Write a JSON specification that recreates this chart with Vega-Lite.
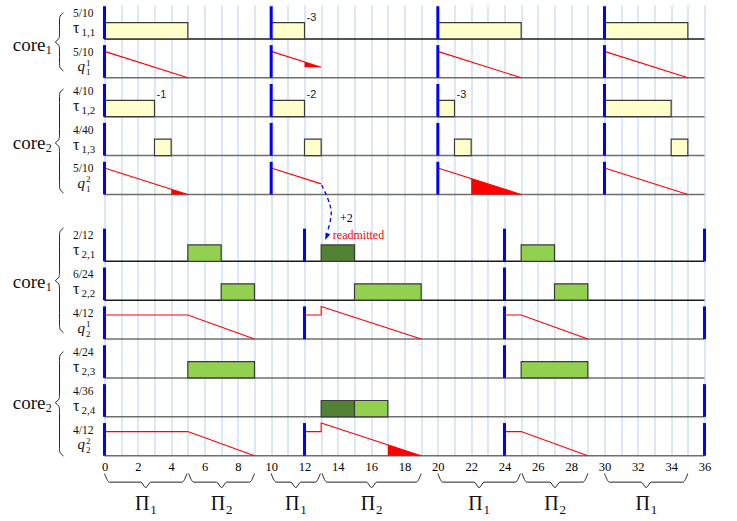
{
  "$schema": "https://vega.github.io/schema/vega-lite/v6.json",
  "width": 600,
  "height": 451,
  "autosize": {"type": "none"},
  "padding": {"left": 104.5, "top": 4.7, "right": 32.5, "bottom": 65.3},
  "background": "white",
  "config": {"view": {"stroke": null}, "font": "Liberation Serif"},
  "datasets": {
    "rows": [
      {"row": "t11", "base": 10.72, "frac": "5/10", "kind": "tau", "sub": "1,1", "sup": ""},
      {"row": "q11", "base": 9.72, "frac": "5/10", "kind": "q", "sub": "1", "sup": "1"},
      {"row": "t12", "base": 8.72, "frac": "4/10", "kind": "tau", "sub": "1,2", "sup": ""},
      {"row": "t13", "base": 7.72, "frac": "4/40", "kind": "tau", "sub": "1,3", "sup": ""},
      {"row": "q12", "base": 6.72, "frac": "5/10", "kind": "q", "sub": "1", "sup": "2"},
      {"row": "t21", "base": 5, "frac": "2/12", "kind": "tau", "sub": "2,1", "sup": ""},
      {"row": "t22", "base": 4, "frac": "6/24", "kind": "tau", "sub": "2,2", "sup": ""},
      {"row": "q21", "base": 3, "frac": "4/12", "kind": "q", "sub": "2", "sup": "1"},
      {"row": "t23", "base": 2, "frac": "4/24", "kind": "tau", "sub": "2,3", "sup": ""},
      {"row": "t24", "base": 1, "frac": "4/36", "kind": "tau", "sub": "2,4", "sup": ""},
      {"row": "q22", "base": 0, "frac": "4/12", "kind": "q", "sub": "2", "sup": "2"}
    ],
    "bars": [
      {"row": "t11", "t": 0, "t2": 5, "kind": "level1"},
      {"row": "t11", "t": 10, "t2": 12, "kind": "level1"},
      {"row": "t11", "t": 20, "t2": 25, "kind": "level1"},
      {"row": "t11", "t": 30, "t2": 35, "kind": "level1"},
      {"row": "t12", "t": 0, "t2": 3, "kind": "level1"},
      {"row": "t12", "t": 10, "t2": 12, "kind": "level1"},
      {"row": "t12", "t": 20, "t2": 21, "kind": "level1"},
      {"row": "t12", "t": 30, "t2": 34, "kind": "level1"},
      {"row": "t13", "t": 3, "t2": 4, "kind": "level1"},
      {"row": "t13", "t": 12, "t2": 13, "kind": "level1"},
      {"row": "t13", "t": 21, "t2": 22, "kind": "level1"},
      {"row": "t13", "t": 34, "t2": 35, "kind": "level1"},
      {"row": "t21", "t": 5, "t2": 7, "kind": "level2"},
      {"row": "t21", "t": 13, "t2": 15, "kind": "readmitted"},
      {"row": "t21", "t": 25, "t2": 27, "kind": "level2"},
      {"row": "t22", "t": 7, "t2": 9, "kind": "level2"},
      {"row": "t22", "t": 15, "t2": 19, "kind": "level2"},
      {"row": "t22", "t": 27, "t2": 29, "kind": "level2"},
      {"row": "t23", "t": 5, "t2": 9, "kind": "level2"},
      {"row": "t23", "t": 25, "t2": 29, "kind": "level2"},
      {"row": "t24", "t": 13, "t2": 15, "kind": "readmitted"},
      {"row": "t24", "t": 15, "t2": 17, "kind": "level2"}
    ],
    "barnotes": [
      {"row": "t11", "t": 12, "text": "-3"},
      {"row": "t12", "t": 3, "text": "-1"},
      {"row": "t12", "t": 12, "text": "-2"},
      {"row": "t12", "t": 21, "text": "-3"}
    ],
    "releases": [
      {"row": "t11", "t": 0}, {"row": "t11", "t": 10}, {"row": "t11", "t": 20}, {"row": "t11", "t": 30},
      {"row": "q11", "t": 0}, {"row": "q11", "t": 10}, {"row": "q11", "t": 20}, {"row": "q11", "t": 30},
      {"row": "t12", "t": 0}, {"row": "t12", "t": 10}, {"row": "t12", "t": 20}, {"row": "t12", "t": 30},
      {"row": "t13", "t": 0}, {"row": "t13", "t": 10}, {"row": "t13", "t": 20}, {"row": "t13", "t": 30},
      {"row": "q12", "t": 0}, {"row": "q12", "t": 10}, {"row": "q12", "t": 20}, {"row": "q12", "t": 30},
      {"row": "t21", "t": 0}, {"row": "t21", "t": 12}, {"row": "t21", "t": 24}, {"row": "t21", "t": 36},
      {"row": "t22", "t": 0}, {"row": "t22", "t": 24},
      {"row": "q21", "t": 0}, {"row": "q21", "t": 12}, {"row": "q21", "t": 24}, {"row": "q21", "t": 36},
      {"row": "t23", "t": 0}, {"row": "t23", "t": 24},
      {"row": "t24", "t": 0}, {"row": "t24", "t": 36},
      {"row": "q22", "t": 0}, {"row": "q22", "t": 12}, {"row": "q22", "t": 24}, {"row": "q22", "t": 36}
    ],
    "qlines": [
      {"id": "q11a", "row": "q11", "i": 0, "t": 0, "v": 0.68}, {"id": "q11a", "row": "q11", "i": 1, "t": 5, "v": 0},
      {"id": "q11b", "row": "q11", "i": 0, "t": 10, "v": 0.68}, {"id": "q11b", "row": "q11", "i": 1, "t": 13, "v": 0.272},
      {"id": "q11c", "row": "q11", "i": 0, "t": 20, "v": 0.68}, {"id": "q11c", "row": "q11", "i": 1, "t": 25, "v": 0},
      {"id": "q11d", "row": "q11", "i": 0, "t": 30, "v": 0.68}, {"id": "q11d", "row": "q11", "i": 1, "t": 35, "v": 0},
      {"id": "q12a", "row": "q12", "i": 0, "t": 0, "v": 0.68}, {"id": "q12a", "row": "q12", "i": 1, "t": 5, "v": 0},
      {"id": "q12b", "row": "q12", "i": 0, "t": 10, "v": 0.68}, {"id": "q12b", "row": "q12", "i": 1, "t": 13, "v": 0.272},
      {"id": "q12c", "row": "q12", "i": 0, "t": 20, "v": 0.68}, {"id": "q12c", "row": "q12", "i": 1, "t": 25, "v": 0},
      {"id": "q12d", "row": "q12", "i": 0, "t": 30, "v": 0.68}, {"id": "q12d", "row": "q12", "i": 1, "t": 35, "v": 0},
      {"id": "q21a", "row": "q21", "i": 0, "t": 0, "v": 0.62}, {"id": "q21a", "row": "q21", "i": 1, "t": 5, "v": 0.62}, {"id": "q21a", "row": "q21", "i": 2, "t": 9, "v": 0},
      {"id": "q21b", "row": "q21", "i": 0, "t": 12, "v": 0.62}, {"id": "q21b", "row": "q21", "i": 1, "t": 13, "v": 0.62}, {"id": "q21b", "row": "q21", "i": 2, "t": 13, "v": 0.84}, {"id": "q21b", "row": "q21", "i": 3, "t": 19, "v": 0},
      {"id": "q21c", "row": "q21", "i": 0, "t": 24, "v": 0.62}, {"id": "q21c", "row": "q21", "i": 1, "t": 25, "v": 0.62}, {"id": "q21c", "row": "q21", "i": 2, "t": 29, "v": 0},
      {"id": "q22a", "row": "q22", "i": 0, "t": 0, "v": 0.62}, {"id": "q22a", "row": "q22", "i": 1, "t": 5, "v": 0.62}, {"id": "q22a", "row": "q22", "i": 2, "t": 9, "v": 0},
      {"id": "q22b", "row": "q22", "i": 0, "t": 12, "v": 0.62}, {"id": "q22b", "row": "q22", "i": 1, "t": 13, "v": 0.62}, {"id": "q22b", "row": "q22", "i": 2, "t": 13, "v": 0.84}, {"id": "q22b", "row": "q22", "i": 3, "t": 19, "v": 0},
      {"id": "q22c", "row": "q22", "i": 0, "t": 24, "v": 0.62}, {"id": "q22c", "row": "q22", "i": 1, "t": 25, "v": 0.62}, {"id": "q22c", "row": "q22", "i": 2, "t": 29, "v": 0}
    ],
    "qfills": [
      {"id": "f1", "row": "q11", "t": 12, "v": 0.408, "v2": 0.272}, {"id": "f1", "row": "q11", "t": 13, "v": 0.272, "v2": 0.272},
      {"id": "f2", "row": "q12", "t": 4, "v": 0.136, "v2": 0}, {"id": "f2", "row": "q12", "t": 5, "v": 0, "v2": 0},
      {"id": "f3", "row": "q12", "t": 22, "v": 0.408, "v2": 0}, {"id": "f3", "row": "q12", "t": 25, "v": 0, "v2": 0},
      {"id": "f4", "row": "q22", "t": 17, "v": 0.28, "v2": 0}, {"id": "f4", "row": "q22", "t": 19, "v": 0, "v2": 0}
    ],
    "arrow": [
      {"row": "q12", "i": 0, "t": 13.03, "v": 0.24},
      {"row": "q12", "i": 1, "t": 13.37, "v": -0.06},
      {"row": "q12", "i": 2, "t": 13.57, "v": -0.32},
      {"row": "q12", "i": 3, "t": 13.63, "v": -0.49},
      {"row": "q12", "i": 4, "t": 13.53, "v": -0.74},
      {"row": "q12", "i": 5, "t": 13.37, "v": -0.96}
    ],
    "arrowhead": [{"row": "q12", "t": 13.33, "v": -1.08}],
    "notes": [
      {"row": "q12", "t": 14.13, "v": -0.6, "text": "+2", "kind": "plain"},
      {"row": "t21", "t": 13.7, "v": 0.67, "text": "readmitted", "kind": "red"}
    ],
    "cores": [
      {"row": "q11", "v": 0.843, "num": "1"},
      {"row": "t13", "v": 0.315, "num": "2"},
      {"row": "t22", "v": 0.475, "num": "1"},
      {"row": "t24", "v": 0.348, "num": "2"}
    ],
    "vbraces": [
      {"id": "B1", "i": 0, "t": -2.46, "y": 11.394}, {"id": "B1", "i": 1, "t": -2.7, "y": 11.314}, {"id": "B1", "i": 2, "t": -2.7, "y": 11.194}, {"id": "B1", "i": 3, "t": -2.7, "y": 10.84}, {"id": "B1", "i": 4, "t": -2.7, "y": 10.72}, {"id": "B1", "i": 5, "t": -2.97, "y": 10.64}, {"id": "B1", "i": 6, "t": -2.97, "y": 10.64}, {"id": "B1", "i": 7, "t": -2.7, "y": 10.56}, {"id": "B1", "i": 8, "t": -2.7, "y": 10.44}, {"id": "B1", "i": 9, "t": -2.7, "y": 10.094}, {"id": "B1", "i": 10, "t": -2.7, "y": 9.974}, {"id": "B1", "i": 11, "t": -2.46, "y": 9.894},
      {"id": "B2", "i": 0, "t": -2.46, "y": 9.432}, {"id": "B2", "i": 1, "t": -2.7, "y": 9.352}, {"id": "B2", "i": 2, "t": -2.7, "y": 9.232}, {"id": "B2", "i": 3, "t": -2.7, "y": 8.243}, {"id": "B2", "i": 4, "t": -2.7, "y": 8.123}, {"id": "B2", "i": 5, "t": -2.97, "y": 8.043}, {"id": "B2", "i": 6, "t": -2.97, "y": 8.043}, {"id": "B2", "i": 7, "t": -2.7, "y": 7.963}, {"id": "B2", "i": 8, "t": -2.7, "y": 7.843}, {"id": "B2", "i": 9, "t": -2.7, "y": 6.957}, {"id": "B2", "i": 10, "t": -2.7, "y": 6.837}, {"id": "B2", "i": 11, "t": -2.46, "y": 6.757},
      {"id": "B3", "i": 0, "t": -2.46, "y": 5.856}, {"id": "B3", "i": 1, "t": -2.7, "y": 5.776}, {"id": "B3", "i": 2, "t": -2.7, "y": 5.656}, {"id": "B3", "i": 3, "t": -2.7, "y": 4.701}, {"id": "B3", "i": 4, "t": -2.7, "y": 4.581}, {"id": "B3", "i": 5, "t": -2.97, "y": 4.501}, {"id": "B3", "i": 6, "t": -2.97, "y": 4.501}, {"id": "B3", "i": 7, "t": -2.7, "y": 4.421}, {"id": "B3", "i": 8, "t": -2.7, "y": 4.301}, {"id": "B3", "i": 9, "t": -2.7, "y": 3.364}, {"id": "B3", "i": 10, "t": -2.7, "y": 3.244}, {"id": "B3", "i": 11, "t": -2.46, "y": 3.164},
      {"id": "B4", "i": 0, "t": -2.46, "y": 2.675}, {"id": "B4", "i": 1, "t": -2.7, "y": 2.595}, {"id": "B4", "i": 2, "t": -2.7, "y": 2.475}, {"id": "B4", "i": 3, "t": -2.7, "y": 1.563}, {"id": "B4", "i": 4, "t": -2.7, "y": 1.443}, {"id": "B4", "i": 5, "t": -2.97, "y": 1.363}, {"id": "B4", "i": 6, "t": -2.97, "y": 1.363}, {"id": "B4", "i": 7, "t": -2.7, "y": 1.283}, {"id": "B4", "i": 8, "t": -2.7, "y": 1.163}, {"id": "B4", "i": 9, "t": -2.7, "y": 0.192}, {"id": "B4", "i": 10, "t": -2.7, "y": 0.072}, {"id": "B4", "i": 11, "t": -2.46, "y": -0.008}
    ],
    "hbraces": [
      {"id": "H1", "t": 0, "y": -0.46}, {"id": "H1", "t": 0.3, "y": -0.68}, {"id": "H1", "t": 2.175, "y": -0.68}, {"id": "H1", "t": 2.475, "y": -0.82}, {"id": "H1", "t": 2.775, "y": -0.68}, {"id": "H1", "t": 4.65, "y": -0.68}, {"id": "H1", "t": 4.95, "y": -0.46},
      {"id": "H2", "t": 5.05, "y": -0.46}, {"id": "H2", "t": 5.35, "y": -0.68}, {"id": "H2", "t": 6.725, "y": -0.68}, {"id": "H2", "t": 7.025, "y": -0.82}, {"id": "H2", "t": 7.325, "y": -0.68}, {"id": "H2", "t": 8.7, "y": -0.68}, {"id": "H2", "t": 9, "y": -0.46},
      {"id": "H3", "t": 10, "y": -0.46}, {"id": "H3", "t": 10.3, "y": -0.68}, {"id": "H3", "t": 11.175, "y": -0.68}, {"id": "H3", "t": 11.475, "y": -0.82}, {"id": "H3", "t": 11.775, "y": -0.68}, {"id": "H3", "t": 12.65, "y": -0.68}, {"id": "H3", "t": 12.95, "y": -0.46},
      {"id": "H4", "t": 13.05, "y": -0.46}, {"id": "H4", "t": 13.35, "y": -0.68}, {"id": "H4", "t": 15.725, "y": -0.68}, {"id": "H4", "t": 16.025, "y": -0.82}, {"id": "H4", "t": 16.325, "y": -0.68}, {"id": "H4", "t": 18.7, "y": -0.68}, {"id": "H4", "t": 19, "y": -0.46},
      {"id": "H5", "t": 20, "y": -0.46}, {"id": "H5", "t": 20.3, "y": -0.68}, {"id": "H5", "t": 22.175, "y": -0.68}, {"id": "H5", "t": 22.475, "y": -0.82}, {"id": "H5", "t": 22.775, "y": -0.68}, {"id": "H5", "t": 24.65, "y": -0.68}, {"id": "H5", "t": 24.95, "y": -0.46},
      {"id": "H6", "t": 25.05, "y": -0.46}, {"id": "H6", "t": 25.35, "y": -0.68}, {"id": "H6", "t": 26.725, "y": -0.68}, {"id": "H6", "t": 27.025, "y": -0.82}, {"id": "H6", "t": 27.325, "y": -0.68}, {"id": "H6", "t": 28.7, "y": -0.68}, {"id": "H6", "t": 29, "y": -0.46},
      {"id": "H7", "t": 30, "y": -0.46}, {"id": "H7", "t": 30.3, "y": -0.68}, {"id": "H7", "t": 32.2, "y": -0.68}, {"id": "H7", "t": 32.5, "y": -0.82}, {"id": "H7", "t": 32.8, "y": -0.68}, {"id": "H7", "t": 34.7, "y": -0.68}, {"id": "H7", "t": 35, "y": -0.46}
    ],
    "partitions": [
      {"t": 2.475, "y": -1.25, "n": "1"},
      {"t": 7.025, "y": -1.25, "n": "2"},
      {"t": 11.475, "y": -1.25, "n": "1"},
      {"t": 16.025, "y": -1.25, "n": "2"},
      {"t": 22.475, "y": -1.25, "n": "1"},
      {"t": 27.025, "y": -1.25, "n": "2"},
      {"t": 32.5, "y": -1.25, "n": "1"}
    ]
  },
  "layer": [
    {
      "data": {"name": "rows"},
      "mark": {"type": "rule", "strokeWidth": 1.5},
      "encoding": {
        "y": {"field": "base", "type": "quantitative", "scale": {"domain": [0, 11.6], "nice": false, "zero": false}, "axis": null},
        "color": {"condition": {"test": "indexof(['t11','t21','t22'], datum.row) >= 0", "value": "#1a1a1a"}, "value": "#6e6e6e"}
      }
    },
    {
      "data": {"name": "bars"},
      "transform": [
        {"lookup": "row", "from": {"data": {"name": "rows"}, "key": "row", "fields": ["base"]}},
        {"calculate": "datum.base", "as": "y"},
        {"calculate": "datum.base + 0.42", "as": "y2"}
      ],
      "mark": {"type": "rect", "stroke": "#3a3a3a", "strokeWidth": 1.2},
      "encoding": {
        "x": {"field": "t", "type": "quantitative", "scale": {"domain": [0, 36], "nice": false, "zero": false}, "axis": {"values": [0,1,2,3,4,5,6,7,8,9,10,11,12,13,14,15,16,17,18,19,20,21,22,23,24,25,26,27,28,29,30,31,32,33,34,35,36], "labelExpr": "datum.value % 2 === 0 ? datum.label : ''", "grid": true, "gridColor": "#c3d8ee", "gridWidth": 1.2, "gridOpacity": 1, "domain": false, "ticks": false, "title": null, "labelFont": "Liberation Serif", "labelFontSize": 12.5, "labelColor": "#000000", "labelPadding": 5, "labelFlush": false, "labelOverlap": false, "labelBound": false}},
        "x2": {"field": "t2"},
        "y": {"field": "y", "type": "quantitative", "axis": null},
        "y2": {"field": "y2"},
        "fill": {"field": "kind", "type": "nominal", "scale": {"domain": ["level1", "level2", "readmitted"], "range": ["#ffffcc", "#92d050", "#548235"]}, "legend": null}
      }
    },
    {
      "data": {"name": "qfills"},
      "transform": [
        {"lookup": "row", "from": {"data": {"name": "rows"}, "key": "row", "fields": ["base"]}},
        {"calculate": "datum.base + datum.v", "as": "y"},
        {"calculate": "datum.base + datum.v2", "as": "y2"}
      ],
      "mark": {"type": "area", "color": "#ff0000", "opacity": 1},
      "encoding": {
        "x": {"field": "t", "type": "quantitative", "axis": {"values": [0,1,2,3,4,5,6,7,8,9,10,11,12,13,14,15,16,17,18,19,20,21,22,23,24,25,26,27,28,29,30,31,32,33,34,35,36], "labelExpr": "datum.value % 2 === 0 ? datum.label : ''", "grid": true, "gridColor": "#c3d8ee", "gridWidth": 1.2, "gridOpacity": 1, "domain": false, "ticks": false, "title": null, "labelFont": "Liberation Serif", "labelFontSize": 12.5, "labelColor": "#000000", "labelPadding": 5, "labelFlush": false, "labelOverlap": false, "labelBound": false}},
        "y": {"field": "y", "type": "quantitative", "axis": null},
        "y2": {"field": "y2"},
        "detail": {"field": "id"}
      }
    },
    {
      "data": {"name": "qlines"},
      "transform": [
        {"lookup": "row", "from": {"data": {"name": "rows"}, "key": "row", "fields": ["base"]}},
        {"calculate": "datum.base + datum.v", "as": "y"}
      ],
      "mark": {"type": "line", "color": "#ff0000", "strokeWidth": 1.1},
      "encoding": {
        "x": {"field": "t", "type": "quantitative", "axis": {"values": [0,1,2,3,4,5,6,7,8,9,10,11,12,13,14,15,16,17,18,19,20,21,22,23,24,25,26,27,28,29,30,31,32,33,34,35,36], "labelExpr": "datum.value % 2 === 0 ? datum.label : ''", "grid": true, "gridColor": "#c3d8ee", "gridWidth": 1.2, "gridOpacity": 1, "domain": false, "ticks": false, "title": null, "labelFont": "Liberation Serif", "labelFontSize": 12.5, "labelColor": "#000000", "labelPadding": 5, "labelFlush": false, "labelOverlap": false, "labelBound": false}},
        "y": {"field": "y", "type": "quantitative", "axis": null},
        "detail": {"field": "id"},
        "order": {"field": "i"}
      }
    },
    {
      "data": {"name": "releases"},
      "transform": [
        {"lookup": "row", "from": {"data": {"name": "rows"}, "key": "row", "fields": ["base"]}},
        {"calculate": "datum.base", "as": "y"},
        {"calculate": "datum.base + 0.84", "as": "y2"}
      ],
      "mark": {"type": "rule", "color": "#0000ff", "strokeWidth": 3},
      "encoding": {
        "x": {"field": "t", "type": "quantitative", "axis": {"values": [0,1,2,3,4,5,6,7,8,9,10,11,12,13,14,15,16,17,18,19,20,21,22,23,24,25,26,27,28,29,30,31,32,33,34,35,36], "labelExpr": "datum.value % 2 === 0 ? datum.label : ''", "grid": true, "gridColor": "#c3d8ee", "gridWidth": 1.2, "gridOpacity": 1, "domain": false, "ticks": false, "title": null, "labelFont": "Liberation Serif", "labelFontSize": 12.5, "labelColor": "#000000", "labelPadding": 5, "labelFlush": false, "labelOverlap": false, "labelBound": false}},
        "y": {"field": "y", "type": "quantitative", "axis": null},
        "y2": {"field": "y2"}
      }
    },
    {
      "data": {"name": "barnotes"},
      "transform": [
        {"lookup": "row", "from": {"data": {"name": "rows"}, "key": "row", "fields": ["base"]}},
        {"calculate": "datum.base + 0.42", "as": "y"}
      ],
      "mark": {"type": "text", "font": "Liberation Sans", "fontSize": 11, "color": "#222222", "align": "left", "baseline": "middle", "dx": 2, "dy": -5},
      "encoding": {
        "x": {"field": "t", "type": "quantitative", "axis": {"values": [0,1,2,3,4,5,6,7,8,9,10,11,12,13,14,15,16,17,18,19,20,21,22,23,24,25,26,27,28,29,30,31,32,33,34,35,36], "labelExpr": "datum.value % 2 === 0 ? datum.label : ''", "grid": true, "gridColor": "#c3d8ee", "gridWidth": 1.2, "gridOpacity": 1, "domain": false, "ticks": false, "title": null, "labelFont": "Liberation Serif", "labelFontSize": 12.5, "labelColor": "#000000", "labelPadding": 5, "labelFlush": false, "labelOverlap": false, "labelBound": false}},
        "y": {"field": "y", "type": "quantitative", "axis": null},
        "text": {"field": "text"}
      }
    },
    {
      "data": {"name": "arrow"},
      "transform": [
        {"lookup": "row", "from": {"data": {"name": "rows"}, "key": "row", "fields": ["base"]}},
        {"calculate": "datum.base + datum.v", "as": "y"}
      ],
      "mark": {"type": "line", "color": "#0000ff", "strokeWidth": 1.3, "strokeDash": [4, 3], "interpolate": "basis"},
      "encoding": {
        "x": {"field": "t", "type": "quantitative", "axis": {"values": [0,1,2,3,4,5,6,7,8,9,10,11,12,13,14,15,16,17,18,19,20,21,22,23,24,25,26,27,28,29,30,31,32,33,34,35,36], "labelExpr": "datum.value % 2 === 0 ? datum.label : ''", "grid": true, "gridColor": "#c3d8ee", "gridWidth": 1.2, "gridOpacity": 1, "domain": false, "ticks": false, "title": null, "labelFont": "Liberation Serif", "labelFontSize": 12.5, "labelColor": "#000000", "labelPadding": 5, "labelFlush": false, "labelOverlap": false, "labelBound": false}},
        "y": {"field": "y", "type": "quantitative", "axis": null},
        "order": {"field": "i"}
      }
    },
    {
      "data": {"name": "arrowhead"},
      "transform": [
        {"lookup": "row", "from": {"data": {"name": "rows"}, "key": "row", "fields": ["base"]}},
        {"calculate": "datum.base + datum.v", "as": "y"}
      ],
      "mark": {"type": "point", "shape": "M -0.6 -0.8 L 0.6 -0.8 L 0 0.9 Z", "filled": true, "color": "#0000ff", "opacity": 1, "size": 70, "angle": 22},
      "encoding": {
        "x": {"field": "t", "type": "quantitative", "axis": {"values": [0,1,2,3,4,5,6,7,8,9,10,11,12,13,14,15,16,17,18,19,20,21,22,23,24,25,26,27,28,29,30,31,32,33,34,35,36], "labelExpr": "datum.value % 2 === 0 ? datum.label : ''", "grid": true, "gridColor": "#c3d8ee", "gridWidth": 1.2, "gridOpacity": 1, "domain": false, "ticks": false, "title": null, "labelFont": "Liberation Serif", "labelFontSize": 12.5, "labelColor": "#000000", "labelPadding": 5, "labelFlush": false, "labelOverlap": false, "labelBound": false}},
        "y": {"field": "y", "type": "quantitative", "axis": null}
      }
    },
    {
      "data": {"name": "notes"},
      "transform": [
        {"lookup": "row", "from": {"data": {"name": "rows"}, "key": "row", "fields": ["base"]}},
        {"calculate": "datum.base + datum.v", "as": "y"}
      ],
      "mark": {"type": "text", "font": "Liberation Serif", "fontSize": 12, "align": "left", "baseline": "middle"},
      "encoding": {
        "x": {"field": "t", "type": "quantitative", "axis": {"values": [0,1,2,3,4,5,6,7,8,9,10,11,12,13,14,15,16,17,18,19,20,21,22,23,24,25,26,27,28,29,30,31,32,33,34,35,36], "labelExpr": "datum.value % 2 === 0 ? datum.label : ''", "grid": true, "gridColor": "#c3d8ee", "gridWidth": 1.2, "gridOpacity": 1, "domain": false, "ticks": false, "title": null, "labelFont": "Liberation Serif", "labelFontSize": 12.5, "labelColor": "#000000", "labelPadding": 5, "labelFlush": false, "labelOverlap": false, "labelBound": false}},
        "y": {"field": "y", "type": "quantitative", "axis": null},
        "text": {"field": "text"},
        "color": {"condition": {"test": "datum.kind === 'red'", "value": "#ff0000"}, "value": "#000000"}
      }
    },
    {
      "data": {"name": "rows"},
      "mark": {"type": "text", "font": "Liberation Serif", "fontSize": 11.5, "color": "#111111", "align": "left", "baseline": "alphabetic", "dx": -31.5, "dy": -22},
      "encoding": {
        "x": {"datum": 0, "type": "quantitative", "axis": {"values": [0,1,2,3,4,5,6,7,8,9,10,11,12,13,14,15,16,17,18,19,20,21,22,23,24,25,26,27,28,29,30,31,32,33,34,35,36], "labelExpr": "datum.value % 2 === 0 ? datum.label : ''", "grid": true, "gridColor": "#c3d8ee", "gridWidth": 1.2, "gridOpacity": 1, "domain": false, "ticks": false, "title": null, "labelFont": "Liberation Serif", "labelFontSize": 12.5, "labelColor": "#000000", "labelPadding": 5, "labelFlush": false, "labelOverlap": false, "labelBound": false}},
        "y": {"field": "base", "type": "quantitative", "axis": null},
        "text": {"field": "frac"}
      }
    },
    {
      "data": {"name": "rows"},
      "transform": [{"filter": "datum.kind === 'tau'"}],
      "mark": {"type": "text", "font": "Liberation Serif", "fontSize": 16, "color": "#111111", "align": "left", "baseline": "alphabetic", "dx": -31.5, "dy": -6, "text": "τ"},
      "encoding": {
        "x": {"datum": 0, "type": "quantitative", "axis": {"values": [0,1,2,3,4,5,6,7,8,9,10,11,12,13,14,15,16,17,18,19,20,21,22,23,24,25,26,27,28,29,30,31,32,33,34,35,36], "labelExpr": "datum.value % 2 === 0 ? datum.label : ''", "grid": true, "gridColor": "#c3d8ee", "gridWidth": 1.2, "gridOpacity": 1, "domain": false, "ticks": false, "title": null, "labelFont": "Liberation Serif", "labelFontSize": 12.5, "labelColor": "#000000", "labelPadding": 5, "labelFlush": false, "labelOverlap": false, "labelBound": false}},
        "y": {"field": "base", "type": "quantitative", "axis": null}
      }
    },
    {
      "data": {"name": "rows"},
      "transform": [{"filter": "datum.kind === 'tau'"}],
      "mark": {"type": "text", "font": "Liberation Serif", "fontSize": 11, "color": "#111111", "align": "left", "baseline": "alphabetic", "dx": -23, "dy": -3},
      "encoding": {
        "x": {"datum": 0, "type": "quantitative", "axis": {"values": [0,1,2,3,4,5,6,7,8,9,10,11,12,13,14,15,16,17,18,19,20,21,22,23,24,25,26,27,28,29,30,31,32,33,34,35,36], "labelExpr": "datum.value % 2 === 0 ? datum.label : ''", "grid": true, "gridColor": "#c3d8ee", "gridWidth": 1.2, "gridOpacity": 1, "domain": false, "ticks": false, "title": null, "labelFont": "Liberation Serif", "labelFontSize": 12.5, "labelColor": "#000000", "labelPadding": 5, "labelFlush": false, "labelOverlap": false, "labelBound": false}},
        "y": {"field": "base", "type": "quantitative", "axis": null},
        "text": {"field": "sub"}
      }
    },
    {
      "data": {"name": "rows"},
      "transform": [{"filter": "datum.kind === 'q'"}],
      "mark": {"type": "text", "font": "Liberation Serif", "fontSize": 15, "fontStyle": "italic", "color": "#111111", "align": "left", "baseline": "alphabetic", "dx": -27, "dy": -6.5, "text": "q"},
      "encoding": {
        "x": {"datum": 0, "type": "quantitative", "axis": {"values": [0,1,2,3,4,5,6,7,8,9,10,11,12,13,14,15,16,17,18,19,20,21,22,23,24,25,26,27,28,29,30,31,32,33,34,35,36], "labelExpr": "datum.value % 2 === 0 ? datum.label : ''", "grid": true, "gridColor": "#c3d8ee", "gridWidth": 1.2, "gridOpacity": 1, "domain": false, "ticks": false, "title": null, "labelFont": "Liberation Serif", "labelFontSize": 12.5, "labelColor": "#000000", "labelPadding": 5, "labelFlush": false, "labelOverlap": false, "labelBound": false}},
        "y": {"field": "base", "type": "quantitative", "axis": null}
      }
    },
    {
      "data": {"name": "rows"},
      "transform": [{"filter": "datum.kind === 'q'"}],
      "mark": {"type": "text", "font": "Liberation Serif", "fontSize": 9, "color": "#111111", "align": "left", "baseline": "alphabetic", "dx": -18.5, "dy": -12},
      "encoding": {
        "x": {"datum": 0, "type": "quantitative", "axis": {"values": [0,1,2,3,4,5,6,7,8,9,10,11,12,13,14,15,16,17,18,19,20,21,22,23,24,25,26,27,28,29,30,31,32,33,34,35,36], "labelExpr": "datum.value % 2 === 0 ? datum.label : ''", "grid": true, "gridColor": "#c3d8ee", "gridWidth": 1.2, "gridOpacity": 1, "domain": false, "ticks": false, "title": null, "labelFont": "Liberation Serif", "labelFontSize": 12.5, "labelColor": "#000000", "labelPadding": 5, "labelFlush": false, "labelOverlap": false, "labelBound": false}},
        "y": {"field": "base", "type": "quantitative", "axis": null},
        "text": {"field": "sup"}
      }
    },
    {
      "data": {"name": "rows"},
      "transform": [{"filter": "datum.kind === 'q'"}],
      "mark": {"type": "text", "font": "Liberation Serif", "fontSize": 9, "color": "#111111", "align": "left", "baseline": "alphabetic", "dx": -18.5, "dy": -2.5},
      "encoding": {
        "x": {"datum": 0, "type": "quantitative", "axis": {"values": [0,1,2,3,4,5,6,7,8,9,10,11,12,13,14,15,16,17,18,19,20,21,22,23,24,25,26,27,28,29,30,31,32,33,34,35,36], "labelExpr": "datum.value % 2 === 0 ? datum.label : ''", "grid": true, "gridColor": "#c3d8ee", "gridWidth": 1.2, "gridOpacity": 1, "domain": false, "ticks": false, "title": null, "labelFont": "Liberation Serif", "labelFontSize": 12.5, "labelColor": "#000000", "labelPadding": 5, "labelFlush": false, "labelOverlap": false, "labelBound": false}},
        "y": {"field": "base", "type": "quantitative", "axis": null},
        "text": {"field": "sub"}
      }
    },
    {
      "data": {"name": "cores"},
      "transform": [
        {"lookup": "row", "from": {"data": {"name": "rows"}, "key": "row", "fields": ["base"]}},
        {"calculate": "datum.base + datum.v", "as": "y"}
      ],
      "mark": {"type": "text", "font": "Liberation Serif", "fontSize": 19, "color": "#111111", "align": "left", "baseline": "middle", "dx": -91.8, "text": "core"},
      "encoding": {
        "x": {"datum": 0, "type": "quantitative", "axis": {"values": [0,1,2,3,4,5,6,7,8,9,10,11,12,13,14,15,16,17,18,19,20,21,22,23,24,25,26,27,28,29,30,31,32,33,34,35,36], "labelExpr": "datum.value % 2 === 0 ? datum.label : ''", "grid": true, "gridColor": "#c3d8ee", "gridWidth": 1.2, "gridOpacity": 1, "domain": false, "ticks": false, "title": null, "labelFont": "Liberation Serif", "labelFontSize": 12.5, "labelColor": "#000000", "labelPadding": 5, "labelFlush": false, "labelOverlap": false, "labelBound": false}},
        "y": {"field": "y", "type": "quantitative", "axis": null}
      }
    },
    {
      "data": {"name": "cores"},
      "transform": [
        {"lookup": "row", "from": {"data": {"name": "rows"}, "key": "row", "fields": ["base"]}},
        {"calculate": "datum.base + datum.v", "as": "y"}
      ],
      "mark": {"type": "text", "font": "Liberation Serif", "fontSize": 12, "color": "#111111", "align": "left", "baseline": "middle", "dx": -58.7, "dy": 5},
      "encoding": {
        "x": {"datum": 0, "type": "quantitative", "axis": {"values": [0,1,2,3,4,5,6,7,8,9,10,11,12,13,14,15,16,17,18,19,20,21,22,23,24,25,26,27,28,29,30,31,32,33,34,35,36], "labelExpr": "datum.value % 2 === 0 ? datum.label : ''", "grid": true, "gridColor": "#c3d8ee", "gridWidth": 1.2, "gridOpacity": 1, "domain": false, "ticks": false, "title": null, "labelFont": "Liberation Serif", "labelFontSize": 12.5, "labelColor": "#000000", "labelPadding": 5, "labelFlush": false, "labelOverlap": false, "labelBound": false}},
        "y": {"field": "y", "type": "quantitative", "axis": null},
        "text": {"field": "num"}
      }
    },
    {
      "data": {"name": "vbraces"},
      "mark": {"type": "line", "color": "#222222", "strokeWidth": 1, "interpolate": "basis"},
      "encoding": {
        "x": {"field": "t", "type": "quantitative", "axis": {"values": [0,1,2,3,4,5,6,7,8,9,10,11,12,13,14,15,16,17,18,19,20,21,22,23,24,25,26,27,28,29,30,31,32,33,34,35,36], "labelExpr": "datum.value % 2 === 0 ? datum.label : ''", "grid": true, "gridColor": "#c3d8ee", "gridWidth": 1.2, "gridOpacity": 1, "domain": false, "ticks": false, "title": null, "labelFont": "Liberation Serif", "labelFontSize": 12.5, "labelColor": "#000000", "labelPadding": 5, "labelFlush": false, "labelOverlap": false, "labelBound": false}},
        "y": {"field": "y", "type": "quantitative", "axis": null},
        "detail": {"field": "id"},
        "order": {"field": "i"}
      }
    },
    {
      "data": {"name": "hbraces"},
      "mark": {"type": "line", "color": "#222222", "strokeWidth": 1, "interpolate": "monotone"},
      "encoding": {
        "x": {"field": "t", "type": "quantitative", "axis": {"values": [0,1,2,3,4,5,6,7,8,9,10,11,12,13,14,15,16,17,18,19,20,21,22,23,24,25,26,27,28,29,30,31,32,33,34,35,36], "labelExpr": "datum.value % 2 === 0 ? datum.label : ''", "grid": true, "gridColor": "#c3d8ee", "gridWidth": 1.2, "gridOpacity": 1, "domain": false, "ticks": false, "title": null, "labelFont": "Liberation Serif", "labelFontSize": 12.5, "labelColor": "#000000", "labelPadding": 5, "labelFlush": false, "labelOverlap": false, "labelBound": false}},
        "y": {"field": "y", "type": "quantitative", "axis": null},
        "detail": {"field": "id"}
      }
    },
    {
      "data": {"name": "partitions"},
      "mark": {"type": "text", "font": "Liberation Serif", "fontSize": 20, "color": "#111111", "align": "center", "baseline": "middle", "dx": -3.5, "text": "Π"},
      "encoding": {
        "x": {"field": "t", "type": "quantitative", "axis": {"values": [0,1,2,3,4,5,6,7,8,9,10,11,12,13,14,15,16,17,18,19,20,21,22,23,24,25,26,27,28,29,30,31,32,33,34,35,36], "labelExpr": "datum.value % 2 === 0 ? datum.label : ''", "grid": true, "gridColor": "#c3d8ee", "gridWidth": 1.2, "gridOpacity": 1, "domain": false, "ticks": false, "title": null, "labelFont": "Liberation Serif", "labelFontSize": 12.5, "labelColor": "#000000", "labelPadding": 5, "labelFlush": false, "labelOverlap": false, "labelBound": false}},
        "y": {"field": "y", "type": "quantitative", "axis": null}
      }
    },
    {
      "data": {"name": "partitions"},
      "mark": {"type": "text", "font": "Liberation Serif", "fontSize": 13, "color": "#111111", "align": "left", "baseline": "middle", "dx": 4.5, "dy": 6},
      "encoding": {
        "x": {"field": "t", "type": "quantitative", "axis": {"values": [0,1,2,3,4,5,6,7,8,9,10,11,12,13,14,15,16,17,18,19,20,21,22,23,24,25,26,27,28,29,30,31,32,33,34,35,36], "labelExpr": "datum.value % 2 === 0 ? datum.label : ''", "grid": true, "gridColor": "#c3d8ee", "gridWidth": 1.2, "gridOpacity": 1, "domain": false, "ticks": false, "title": null, "labelFont": "Liberation Serif", "labelFontSize": 12.5, "labelColor": "#000000", "labelPadding": 5, "labelFlush": false, "labelOverlap": false, "labelBound": false}},
        "y": {"field": "y", "type": "quantitative", "axis": null},
        "text": {"field": "n"}
      }
    }
  ]
}
